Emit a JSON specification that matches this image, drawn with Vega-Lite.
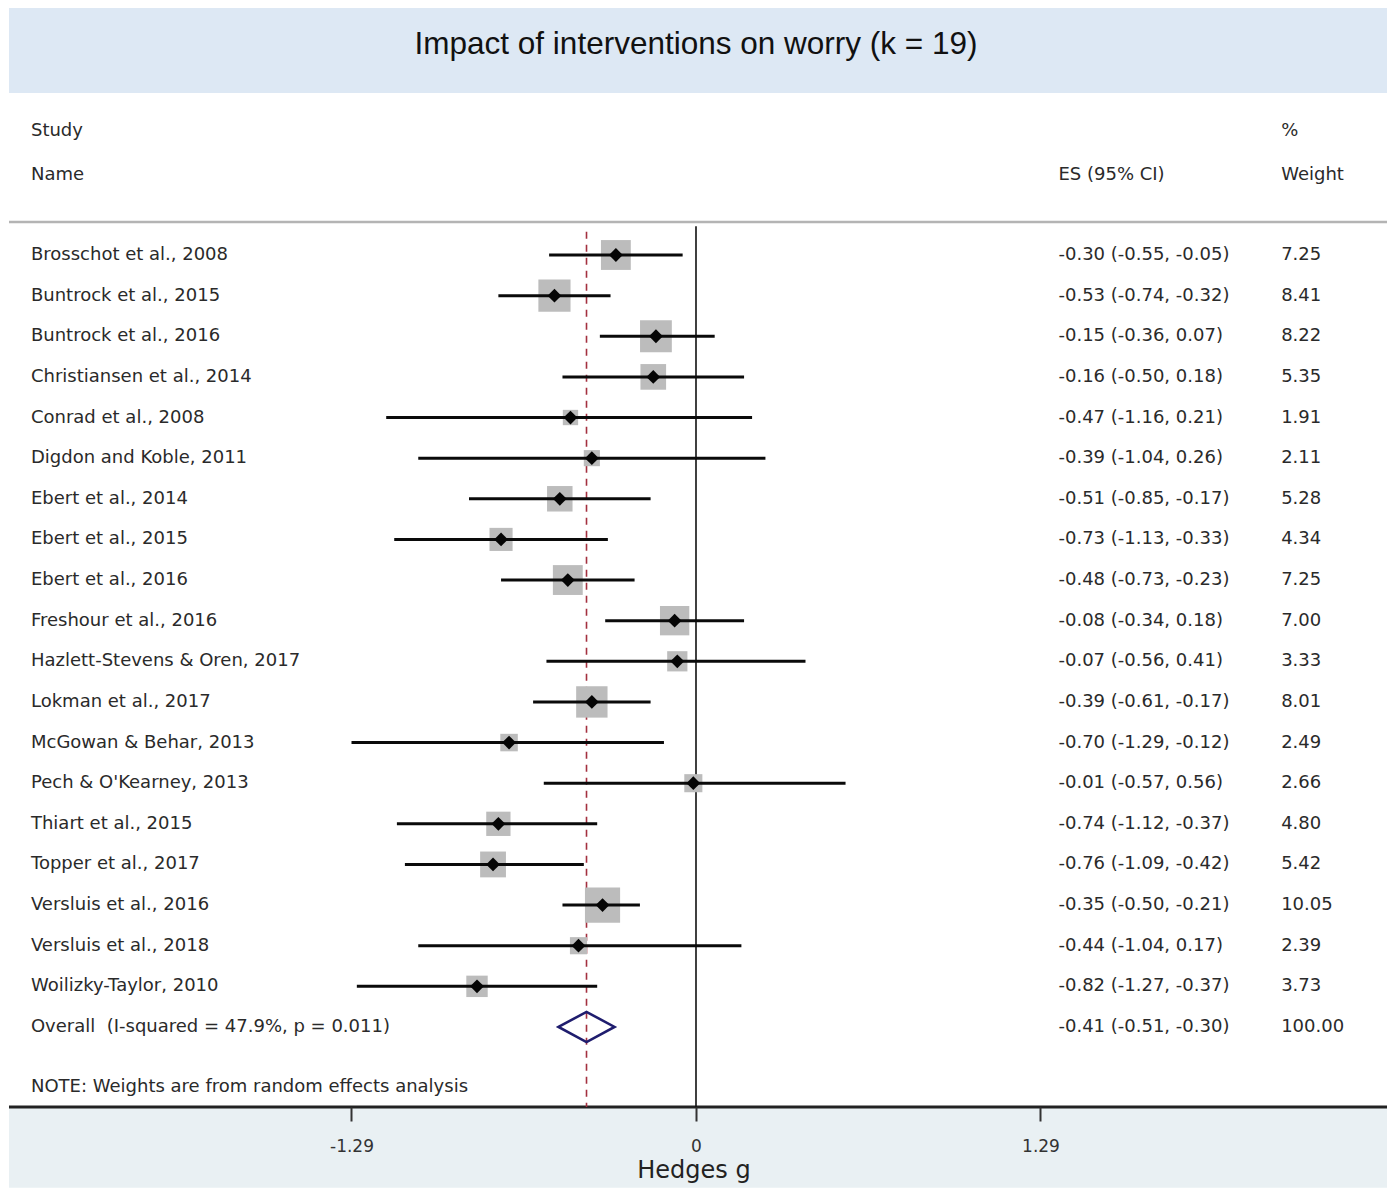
{
  "$schema": "https://vega.github.io/schema/vega-lite/v6.json",
  "width": 1389,
  "height": 1191,
  "autosize": {"type": "fit", "contains": "padding"},
  "padding": 0,
  "background": "white",
  "config": {
    "view": {"stroke": null},
    "axisX": {
      "grid": false,
      "domain": false,
      "tickColor": "#333333",
      "tickWidth": 2,
      "tickSize": 14,
      "labelFont": "DejaVu Sans",
      "labelFontSize": 17,
      "labelColor": "#333333",
      "labelPadding": 17,
      "titleFont": "DejaVu Sans",
      "titleFontSize": 24,
      "titleFontWeight": "normal",
      "titleColor": "#222222",
      "titlePadding": 4
    },
    "text": {"font": "DejaVu Sans", "fontSize": 18, "fill": "#2a2a2a", "baseline": "middle", "align": "left"}
  },
  "datasets": {
    "studies": [
      {"row": 1, "study": "Brosschot et al., 2008", "es": -0.30, "lo": -0.55, "hi": -0.05, "w": 7.25, "estext": "-0.30 (-0.55, -0.05)", "wtext": "7.25", "kind": "study"},
      {"row": 2, "study": "Buntrock et al., 2015", "es": -0.53, "lo": -0.74, "hi": -0.32, "w": 8.41, "estext": "-0.53 (-0.74, -0.32)", "wtext": "8.41", "kind": "study"},
      {"row": 3, "study": "Buntrock et al., 2016", "es": -0.15, "lo": -0.36, "hi": 0.07, "w": 8.22, "estext": "-0.15 (-0.36, 0.07)", "wtext": "8.22", "kind": "study"},
      {"row": 4, "study": "Christiansen et al., 2014", "es": -0.16, "lo": -0.50, "hi": 0.18, "w": 5.35, "estext": "-0.16 (-0.50, 0.18)", "wtext": "5.35", "kind": "study"},
      {"row": 5, "study": "Conrad et al., 2008", "es": -0.47, "lo": -1.16, "hi": 0.21, "w": 1.91, "estext": "-0.47 (-1.16, 0.21)", "wtext": "1.91", "kind": "study"},
      {"row": 6, "study": "Digdon and Koble, 2011", "es": -0.39, "lo": -1.04, "hi": 0.26, "w": 2.11, "estext": "-0.39 (-1.04, 0.26)", "wtext": "2.11", "kind": "study"},
      {"row": 7, "study": "Ebert et al., 2014", "es": -0.51, "lo": -0.85, "hi": -0.17, "w": 5.28, "estext": "-0.51 (-0.85, -0.17)", "wtext": "5.28", "kind": "study"},
      {"row": 8, "study": "Ebert et al., 2015", "es": -0.73, "lo": -1.13, "hi": -0.33, "w": 4.34, "estext": "-0.73 (-1.13, -0.33)", "wtext": "4.34", "kind": "study"},
      {"row": 9, "study": "Ebert et al., 2016", "es": -0.48, "lo": -0.73, "hi": -0.23, "w": 7.25, "estext": "-0.48 (-0.73, -0.23)", "wtext": "7.25", "kind": "study"},
      {"row": 10, "study": "Freshour et al., 2016", "es": -0.08, "lo": -0.34, "hi": 0.18, "w": 7.00, "estext": "-0.08 (-0.34, 0.18)", "wtext": "7.00", "kind": "study"},
      {"row": 11, "study": "Hazlett-Stevens & Oren, 2017", "es": -0.07, "lo": -0.56, "hi": 0.41, "w": 3.33, "estext": "-0.07 (-0.56, 0.41)", "wtext": "3.33", "kind": "study"},
      {"row": 12, "study": "Lokman et al., 2017", "es": -0.39, "lo": -0.61, "hi": -0.17, "w": 8.01, "estext": "-0.39 (-0.61, -0.17)", "wtext": "8.01", "kind": "study"},
      {"row": 13, "study": "McGowan & Behar, 2013", "es": -0.70, "lo": -1.29, "hi": -0.12, "w": 2.49, "estext": "-0.70 (-1.29, -0.12)", "wtext": "2.49", "kind": "study"},
      {"row": 14, "study": "Pech & O'Kearney, 2013", "es": -0.01, "lo": -0.57, "hi": 0.56, "w": 2.66, "estext": "-0.01 (-0.57, 0.56)", "wtext": "2.66", "kind": "study"},
      {"row": 15, "study": "Thiart et al., 2015", "es": -0.74, "lo": -1.12, "hi": -0.37, "w": 4.80, "estext": "-0.74 (-1.12, -0.37)", "wtext": "4.80", "kind": "study"},
      {"row": 16, "study": "Topper et al., 2017", "es": -0.76, "lo": -1.09, "hi": -0.42, "w": 5.42, "estext": "-0.76 (-1.09, -0.42)", "wtext": "5.42", "kind": "study"},
      {"row": 17, "study": "Versluis et al., 2016", "es": -0.35, "lo": -0.50, "hi": -0.21, "w": 10.05, "estext": "-0.35 (-0.50, -0.21)", "wtext": "10.05", "kind": "study"},
      {"row": 18, "study": "Versluis et al., 2018", "es": -0.44, "lo": -1.04, "hi": 0.17, "w": 2.39, "estext": "-0.44 (-1.04, 0.17)", "wtext": "2.39", "kind": "study"},
      {"row": 19, "study": "Woilizky-Taylor, 2010", "es": -0.82, "lo": -1.27, "hi": -0.37, "w": 3.73, "estext": "-0.82 (-1.27, -0.37)", "wtext": "3.73", "kind": "study"},
      {"row": 20, "study": "Overall\u00a0\u00a0(I-squared = 47.9%, p = 0.011)", "es": -0.41, "lo": -0.51, "hi": -0.30, "w": 100.00, "estext": "-0.41 (-0.51, -0.30)", "wtext": "100.00", "kind": "overall"}
    ],
    "one": [{}]
  },
  "layer": [
    {
      "data": {"name": "one"},
      "mark": {"type": "rect", "fill": "#dde8f4"},
      "encoding": {
        "x": {"datum": -2.5725, "type": "quantitative", "scale": {"domain": [-2.6062, 2.5875], "nice": false, "zero": false}, "axis": {"values": [-1.29, 0, 1.29], "format": ".2~f", "labelExpr": "replace(datum.label, '\u2212', '-')", "offset": -84, "zindex": 2}, "title": "Hedges g"},
        "x2": {"datum": 2.5875},
        "y": {"datum": -5.079, "type": "quantitative", "scale": {"domain": [-5.276, 24.037], "nice": false, "zero": false, "reverse": true}, "axis": null},
        "y2": {"datum": -2.987}
      }
    },
    {
      "data": {"name": "one"},
      "mark": {"type": "rect", "fill": "#e9f0f3"},
      "encoding": {
        "x": {"datum": -2.5725, "type": "quantitative", "title": "Hedges g"},
        "x2": {"datum": 2.5875},
        "y": {"datum": 21.97, "type": "quantitative", "axis": null},
        "y2": {"datum": 23.96}
      }
    },
    {
      "data": {"name": "one"},
      "mark": {"type": "rule", "stroke": "#b4b4b4", "strokeWidth": 2.5},
      "encoding": {
        "x": {"datum": -2.5725, "type": "quantitative", "title": "Hedges g"},
        "x2": {"datum": 2.5875},
        "y": {"datum": 0.19, "type": "quantitative", "axis": null}
      }
    },
    {
      "data": {"name": "one"},
      "mark": {"type": "rule", "stroke": "#222222", "strokeWidth": 3},
      "encoding": {
        "x": {"datum": -2.5725, "type": "quantitative", "title": "Hedges g"},
        "x2": {"datum": 2.5875},
        "y": {"datum": 21.97, "type": "quantitative", "axis": null}
      }
    },
    {
      "data": {"name": "one"},
      "mark": {"type": "rule", "stroke": "#111111", "strokeWidth": 1.6},
      "encoding": {
        "x": {"datum": 0, "type": "quantitative", "title": "Hedges g"},
        "y": {"datum": 0.29, "type": "quantitative", "axis": null},
        "y2": {"datum": 21.97}
      }
    },
    {
      "data": {"name": "studies"},
      "transform": [{"filter": "datum.kind === 'overall'"}],
      "mark": {"type": "rule", "stroke": "#a3303f", "strokeWidth": 1.6, "strokeDash": [7, 6]},
      "encoding": {
        "x": {"field": "es", "type": "quantitative", "title": "Hedges g"},
        "y": {"datum": 0.43, "type": "quantitative", "axis": null},
        "y2": {"datum": 21.97}
      }
    },
    {
      "data": {"name": "studies"},
      "transform": [{"filter": "datum.kind === 'study'"}],
      "mark": {"type": "point", "shape": "square", "filled": true, "fill": "#bcbcbc", "opacity": 1, "strokeWidth": 0},
      "encoding": {
        "x": {"field": "es", "type": "quantitative", "title": "Hedges g"},
        "y": {"field": "row", "type": "quantitative", "axis": null},
        "size": {"field": "w", "type": "quantitative", "scale": {"type": "linear", "domain": [0, 10], "range": [0, 1230]}, "legend": null}
      }
    },
    {
      "data": {"name": "studies"},
      "transform": [{"filter": "datum.kind === 'study'"}],
      "mark": {"type": "rule", "stroke": "#0a0a0a", "strokeWidth": 3},
      "encoding": {
        "x": {"field": "lo", "type": "quantitative", "title": "Hedges g"},
        "x2": {"field": "hi"},
        "y": {"field": "row", "type": "quantitative", "axis": null}
      }
    },
    {
      "data": {"name": "studies"},
      "transform": [{"filter": "datum.kind === 'study'"}],
      "mark": {"type": "point", "shape": "diamond", "filled": true, "fill": "#050505", "opacity": 1, "size": 190, "strokeWidth": 0},
      "encoding": {
        "x": {"field": "es", "type": "quantitative", "title": "Hedges g"},
        "y": {"field": "row", "type": "quantitative", "axis": null}
      }
    },
    {
      "data": {"name": "studies"},
      "transform": [{"filter": "datum.kind === 'overall'"}],
      "mark": {"type": "point", "shape": "M-1,0L0,-0.54L1,0L0,0.54Z", "filled": false, "stroke": "#1f1d6e", "strokeWidth": 2.6, "opacity": 1, "size": 3136},
      "encoding": {
        "x": {"field": "es", "type": "quantitative", "title": "Hedges g"},
        "y": {"field": "row", "type": "quantitative", "axis": null}
      }
    },
    {
      "data": {"name": "studies"},
      "mark": {"type": "text"},
      "encoding": {
        "x": {"datum": -2.4903, "type": "quantitative", "title": "Hedges g"},
        "y": {"field": "row", "type": "quantitative", "axis": null},
        "text": {"field": "study"}
      }
    },
    {
      "data": {"name": "studies"},
      "mark": {"type": "text"},
      "encoding": {
        "x": {"datum": 1.3573, "type": "quantitative", "title": "Hedges g"},
        "y": {"field": "row", "type": "quantitative", "axis": null},
        "text": {"field": "estext"}
      }
    },
    {
      "data": {"name": "studies"},
      "mark": {"type": "text"},
      "encoding": {
        "x": {"datum": 2.1911, "type": "quantitative", "title": "Hedges g"},
        "y": {"field": "row", "type": "quantitative", "axis": null},
        "text": {"field": "wtext"}
      }
    },
    {
      "data": {"name": "one"},
      "mark": {"type": "text", "text": "Study"},
      "encoding": {
        "x": {"datum": -2.4903, "type": "quantitative", "title": "Hedges g"},
        "y": {"datum": -2.052, "type": "quantitative", "axis": null}
      }
    },
    {
      "data": {"name": "one"},
      "mark": {"type": "text", "text": "Name"},
      "encoding": {
        "x": {"datum": -2.4903, "type": "quantitative", "title": "Hedges g"},
        "y": {"datum": -0.969, "type": "quantitative", "axis": null}
      }
    },
    {
      "data": {"name": "one"},
      "mark": {"type": "text", "text": "ES (95% CI)"},
      "encoding": {
        "x": {"datum": 1.3573, "type": "quantitative", "title": "Hedges g"},
        "y": {"datum": -0.969, "type": "quantitative", "axis": null}
      }
    },
    {
      "data": {"name": "one"},
      "mark": {"type": "text", "text": "%"},
      "encoding": {
        "x": {"datum": 2.1911, "type": "quantitative", "title": "Hedges g"},
        "y": {"datum": -2.052, "type": "quantitative", "axis": null}
      }
    },
    {
      "data": {"name": "one"},
      "mark": {"type": "text", "text": "Weight"},
      "encoding": {
        "x": {"datum": 2.1911, "type": "quantitative", "title": "Hedges g"},
        "y": {"datum": -0.969, "type": "quantitative", "axis": null}
      }
    },
    {
      "data": {"name": "one"},
      "mark": {"type": "text", "text": "NOTE: Weights are from random effects analysis"},
      "encoding": {
        "x": {"datum": -2.4903, "type": "quantitative", "title": "Hedges g"},
        "y": {"datum": 21.478, "type": "quantitative", "axis": null}
      }
    },
    {
      "data": {"name": "one"},
      "mark": {"type": "text", "text": "Impact of interventions on worry (k = 19)", "align": "center", "font": "Liberation Sans", "fontSize": 31.5, "fill": "#111111"},
      "encoding": {
        "x": {"datum": 0, "type": "quantitative", "title": "Hedges g"},
        "y": {"datum": -4.169, "type": "quantitative", "axis": null}
      }
    }
  ]
}
